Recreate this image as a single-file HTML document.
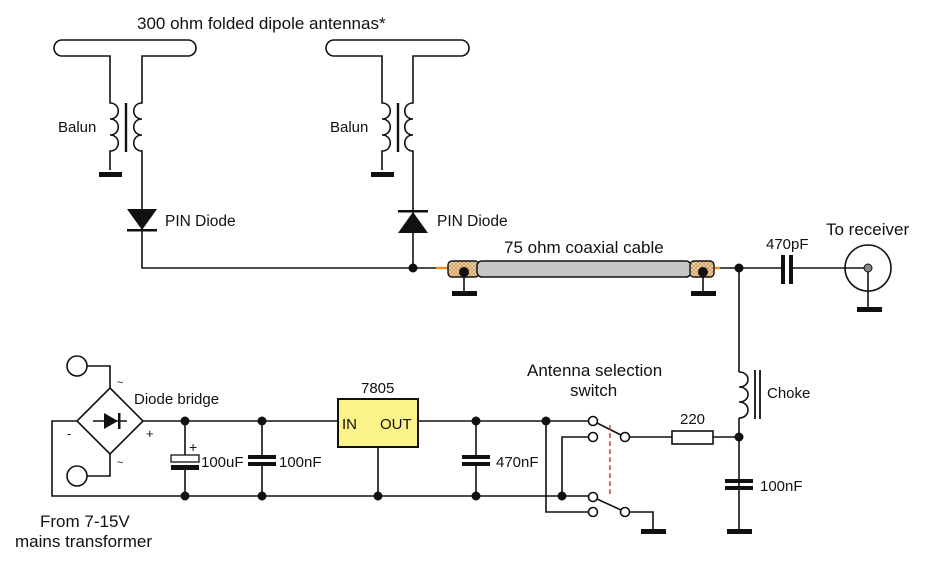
<!DOCTYPE html>
<html><head><style>
html,body{margin:0;padding:0;background:#fff;}
svg{display:block;}
text{font-family:"Liberation Sans",Arial,sans-serif;fill:#111;}
</style></head><body>
<svg width="928" height="571" viewBox="0 0 928 571" xmlns="http://www.w3.org/2000/svg">
<defs>
<pattern id="mesh" width="4" height="4" patternUnits="userSpaceOnUse">
<rect width="4" height="4" fill="#f3d9b0"/>
<path d="M0 0L4 4M4 0L0 4" stroke="#c28a4a" stroke-width="0.7"/>
</pattern>
</defs>
<g stroke="#111" stroke-width="1.6" fill="none">
<path d="M62 40H188A8 8 0 0 1 188 56H142V100M62 40A8 8 0 0 0 62 56H110V100"/>
<path d="M110 100V103c11 0 11 16 0 16c11 0 11 16 0 16c11 0 11 16 0 16V170"/>
<path d="M142 100V103c-11 0 -11 16 0 16c-11 0 -11 16 0 16c-11 0 -11 16 0 16V268H413"/>
<line x1="126" y1="103" x2="126" y2="152" stroke-width="2.4"/>
<path d="M334 40H461A8 8 0 0 1 461 56H413V100M334 40A8 8 0 0 0 334 56H382V100"/>
<path d="M382 100V103c11 0 11 16 0 16c11 0 11 16 0 16c11 0 11 16 0 16V170"/>
<path d="M413 100V103c-11 0 -11 16 0 16c-11 0 -11 16 0 16c-11 0 -11 16 0 16V268"/>
<line x1="398" y1="103" x2="398" y2="152" stroke-width="2.4"/>
<line x1="413" y1="268" x2="436" y2="268"/>
<path d="M464 272V292M703 272V292M868 268V307"/>
<path d="M718 268H783M791 268H868M739 268V372M739 418V532"/>
<path d="M739 372c12 0 12 15 0 15c12 0 12 15 0 15c12 0 12 16 0 16"/>
<line x1="755" y1="370" x2="755" y2="419" stroke-width="1.8"/>
<line x1="760" y1="370" x2="760" y2="419" stroke-width="1.8"/>
<circle cx="868" cy="268" r="23"/>
<path d="M629 437H672M713 437H739"/>
<rect x="672" y="431" width="41" height="13"/>
<circle cx="77" cy="366" r="10"/>
<circle cx="77" cy="476" r="10"/>
<path d="M87 366H110V388M87 476H110V454M77 421H52V496H593M143 421H338M418 421H588"/>
<polygon points="110,388 143,421 110,454 77,421"/>
<path d="M93 421H127"/>
<path d="M185 421V455M185 468V496M262 421V456M262 465V496M378 447V496M476 421V456M476 465V496"/>
<path d="M546 421V512H588M588 437H562V496"/>
<circle cx="593" cy="421" r="4.5" fill="#fff"/>
<circle cx="593" cy="437" r="4.5" fill="#fff"/>
<circle cx="625" cy="437" r="4.5" fill="#fff"/>
<circle cx="593" cy="497" r="4.5" fill="#fff"/>
<circle cx="593" cy="512" r="4.5" fill="#fff"/>
<circle cx="625" cy="512" r="4.5" fill="#fff"/>
<path d="M597 423L621 435M597 499L621 510M630 512H653V530"/>
</g>
<line x1="610" y1="425" x2="610" y2="495" stroke="#c0392b" stroke-width="1.4" stroke-dasharray="5,3"/>
<g fill="#111">
<rect x="99" y="172" width="23" height="5"/>
<rect x="371" y="172" width="23" height="5"/>
<rect x="452" y="291" width="25" height="5"/>
<rect x="691" y="291" width="25" height="5"/>
<rect x="857" y="307" width="25" height="5"/>
<rect x="641" y="529" width="25" height="5"/>
<rect x="727" y="529" width="25" height="5"/>
<polygon points="127,209 157,209 142,230"/>
<rect x="127" y="229" width="30" height="2.5"/>
<polygon points="398,233 428,233 413,212"/>
<rect x="398" y="210" width="30" height="2.5"/>
<polygon points="104,413 104,429 118,421"/>
<rect x="118" y="413" width="2.5" height="16"/>
<rect x="781" y="255" width="4" height="29"/>
<rect x="789" y="255" width="4" height="29"/>
<rect x="171" y="465" width="28" height="5"/>
<rect x="248" y="455" width="28" height="4"/>
<rect x="248" y="462" width="28" height="4"/>
<rect x="462" y="455" width="28" height="4"/>
<rect x="462" y="462" width="28" height="4"/>
<rect x="725" y="479" width="28" height="4"/>
<rect x="725" y="486" width="28" height="4"/>
<circle cx="413" cy="268" r="4.5"/>
<circle cx="739" cy="268" r="4.5"/>
<circle cx="739" cy="437" r="4.5"/>
<circle cx="185" cy="421" r="4.5"/><circle cx="262" cy="421" r="4.5"/>
<circle cx="185" cy="496" r="4.5"/><circle cx="262" cy="496" r="4.5"/>
<circle cx="378" cy="496" r="4.5"/><circle cx="476" cy="421" r="4.5"/>
<circle cx="476" cy="496" r="4.5"/><circle cx="546" cy="421" r="4.5"/>
<circle cx="562" cy="496" r="4.5"/>
</g>
<rect x="171" y="455" width="28" height="7" fill="#fff" stroke="#111" stroke-width="1.3"/>
<line x1="436" y1="268" x2="450" y2="268" stroke="#e8902a" stroke-width="2.5"/>
<line x1="712" y1="268" x2="720" y2="268" stroke="#e8902a" stroke-width="2.5"/>
<rect x="448" y="261" width="31" height="16" rx="4" fill="url(#mesh)" stroke="#111" stroke-width="1.4"/>
<rect x="477" y="261" width="214" height="16" rx="5" fill="#c6c6c6" stroke="#111" stroke-width="1.5"/>
<rect x="690" y="261" width="24" height="16" rx="4" fill="url(#mesh)" stroke="#111" stroke-width="1.4"/>
<circle cx="464" cy="272" r="5" fill="#111"/>
<circle cx="703" cy="272" r="5" fill="#111"/>
<circle cx="868" cy="268" r="4" fill="#888" stroke="#111"/>
<rect x="338" y="399" width="80" height="48" fill="#fbf38a" stroke="#111" stroke-width="2"/>
<text x="137" y="29" font-size="17">300 ohm folded dipole antennas*</text>
<text x="58" y="132" font-size="15">Balun</text>
<text x="330" y="132" font-size="15">Balun</text>
<text x="165" y="226" font-size="15.5">PIN Diode</text>
<text x="437" y="226" font-size="15.5">PIN Diode</text>
<text x="504" y="253" font-size="17">75 ohm coaxial cable</text>
<text x="766" y="249" font-size="15">470pF</text>
<text x="826" y="235" font-size="17">To receiver</text>
<text x="767" y="398" font-size="15">Choke</text>
<text x="680" y="424" font-size="15">220</text>
<text x="760" y="491" font-size="15">100nF</text>
<text x="527" y="376" font-size="17">Antenna selection</text>
<text x="570" y="396" font-size="17">switch</text>
<text x="361" y="393" font-size="15">7805</text>
<text x="342" y="429" font-size="15">IN</text>
<text x="380" y="429" font-size="15">OUT</text>
<text x="134" y="404" font-size="15">Diode bridge</text>
<text x="117" y="386" font-size="11">~</text>
<text x="117" y="466" font-size="11">~</text>
<text x="67" y="438" font-size="13">-</text>
<text x="146" y="438" font-size="13">+</text>
<text x="189" y="452" font-size="14">+</text>
<text x="201" y="467" font-size="15">100uF</text>
<text x="279" y="467" font-size="15">100nF</text>
<text x="496" y="467" font-size="15">470nF</text>
<text x="40" y="527" font-size="17">From 7-15V</text>
<text x="15" y="547" font-size="17">mains transformer</text>
</svg>
</body></html>
